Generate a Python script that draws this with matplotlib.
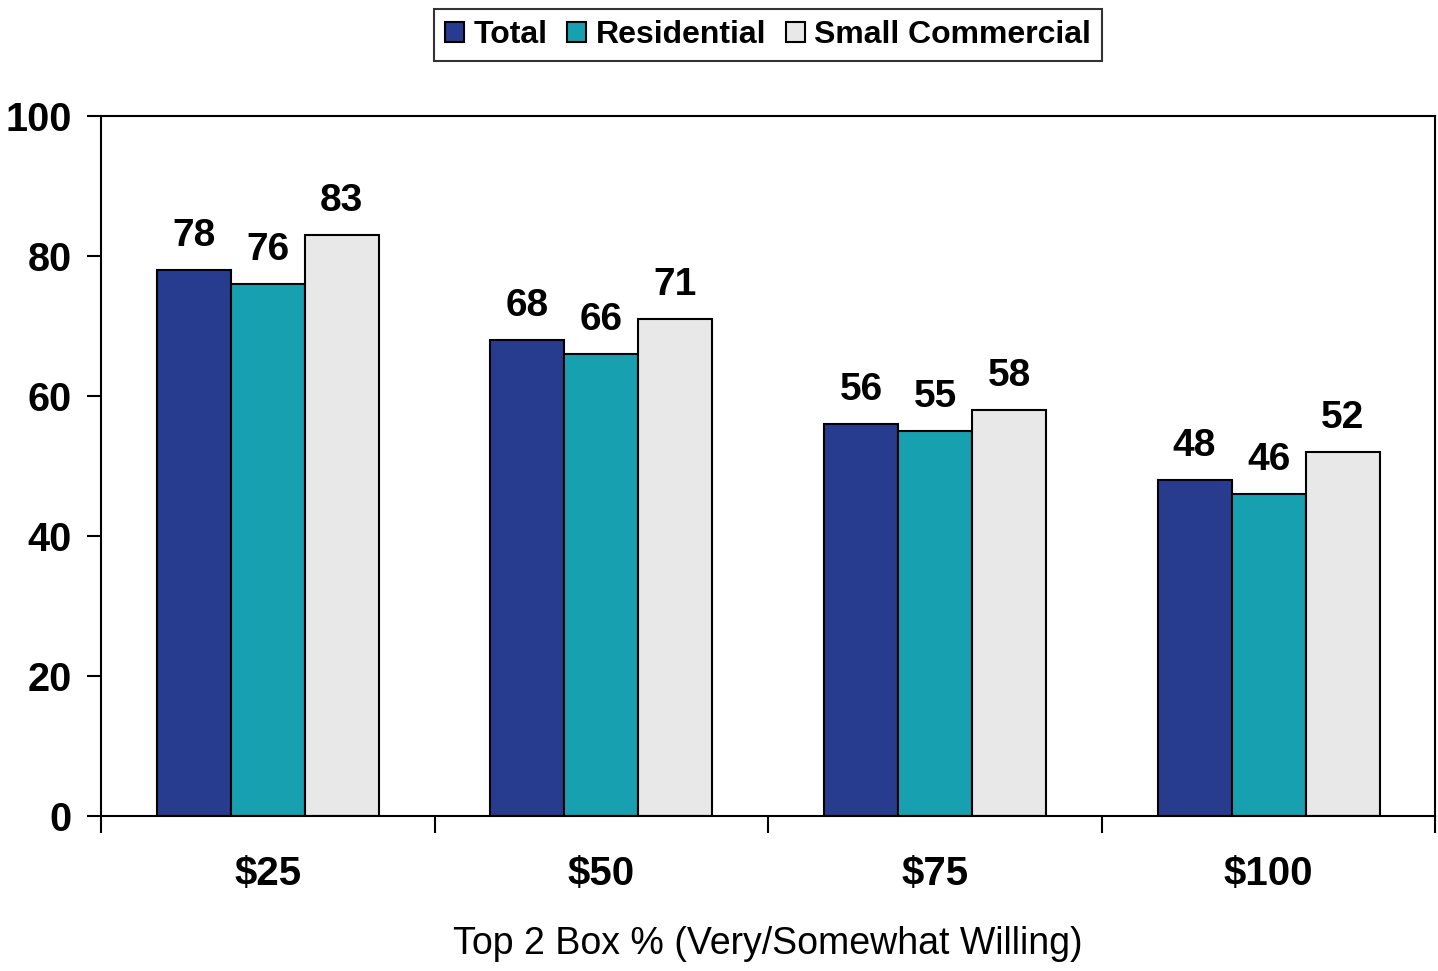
import numpy as np
import matplotlib.pyplot as plt
from matplotlib.patches import Patch

categories = ["$25", "$50", "$75", "$100"]
series = ["Total", "Residential", "Small Commercial"]
total = [78, 68, 56, 48]
residential = [76, 66, 55, 46]
small_commercial = [83, 71, 58, 52]
colors = ["#283C8F", "#17A0B0", "#E8E8E8"]

plt.rcParams['font.family'] = ['Liberation Sans', 'DejaVu Sans']

fig = plt.figure(figsize=(14.38, 9.71), dpi=100)
ax = fig.add_axes([0.0702, 0.1596, 0.928, 0.7209])

x = np.arange(len(categories))
width = 0.222
values = [total, residential, small_commercial]
for i, (name, vals, c) in enumerate(zip(series, values, colors)):
    pos = x + (i - 1) * width
    bars = ax.bar(pos, vals, width, color=c, edgecolor="black", linewidth=1.5, label=name)
    for xp, v in zip(pos, vals):
        ax.text(xp, v + 2.3, str(v), ha="center", va="bottom",
                fontsize=28, fontweight="bold")

ax.set_xlim(-0.5, len(categories) - 0.5)
ax.set_ylim(0, 100)
ax.set_yticks(range(0, 101, 20))
ax.tick_params(axis="y", labelsize=28.5, width=1.5, length=10, direction="out", pad=11)
for lab in ax.get_yticklabels():
    lab.set_fontweight("bold")

# category labels centered, ticks at group boundaries
ax.set_xticks(x)
ax.set_xticklabels(categories, fontsize=29, fontweight="bold")
ax.tick_params(axis="x", length=0, pad=28)
ax.set_xticks(np.arange(-0.5, len(categories)), minor=True)
ax.tick_params(axis="x", which="minor", length=12, width=1.5, direction="out")

for s in ax.spines.values():
    s.set_linewidth(1.5)

ax.set_xlabel("Top 2 Box % (Very/Somewhat Willing)", fontsize=27, labelpad=24)

handles = [Patch(facecolor=c, edgecolor="black", linewidth=1.5) for c in colors]
leg = ax.legend(handles, series, loc="lower center", bbox_to_anchor=(0.5, 1.078),
                ncol=3, frameon=True, fancybox=False, edgecolor="black",
                prop={"size": 23, "weight": "bold"}, handlelength=0.6,
                handleheight=0.6, handletextpad=0.3, columnspacing=0.6,
                borderpad=0.35, borderaxespad=0)
leg.get_frame().set_linewidth(1.5)

fig.savefig("out.png", dpi=100)
